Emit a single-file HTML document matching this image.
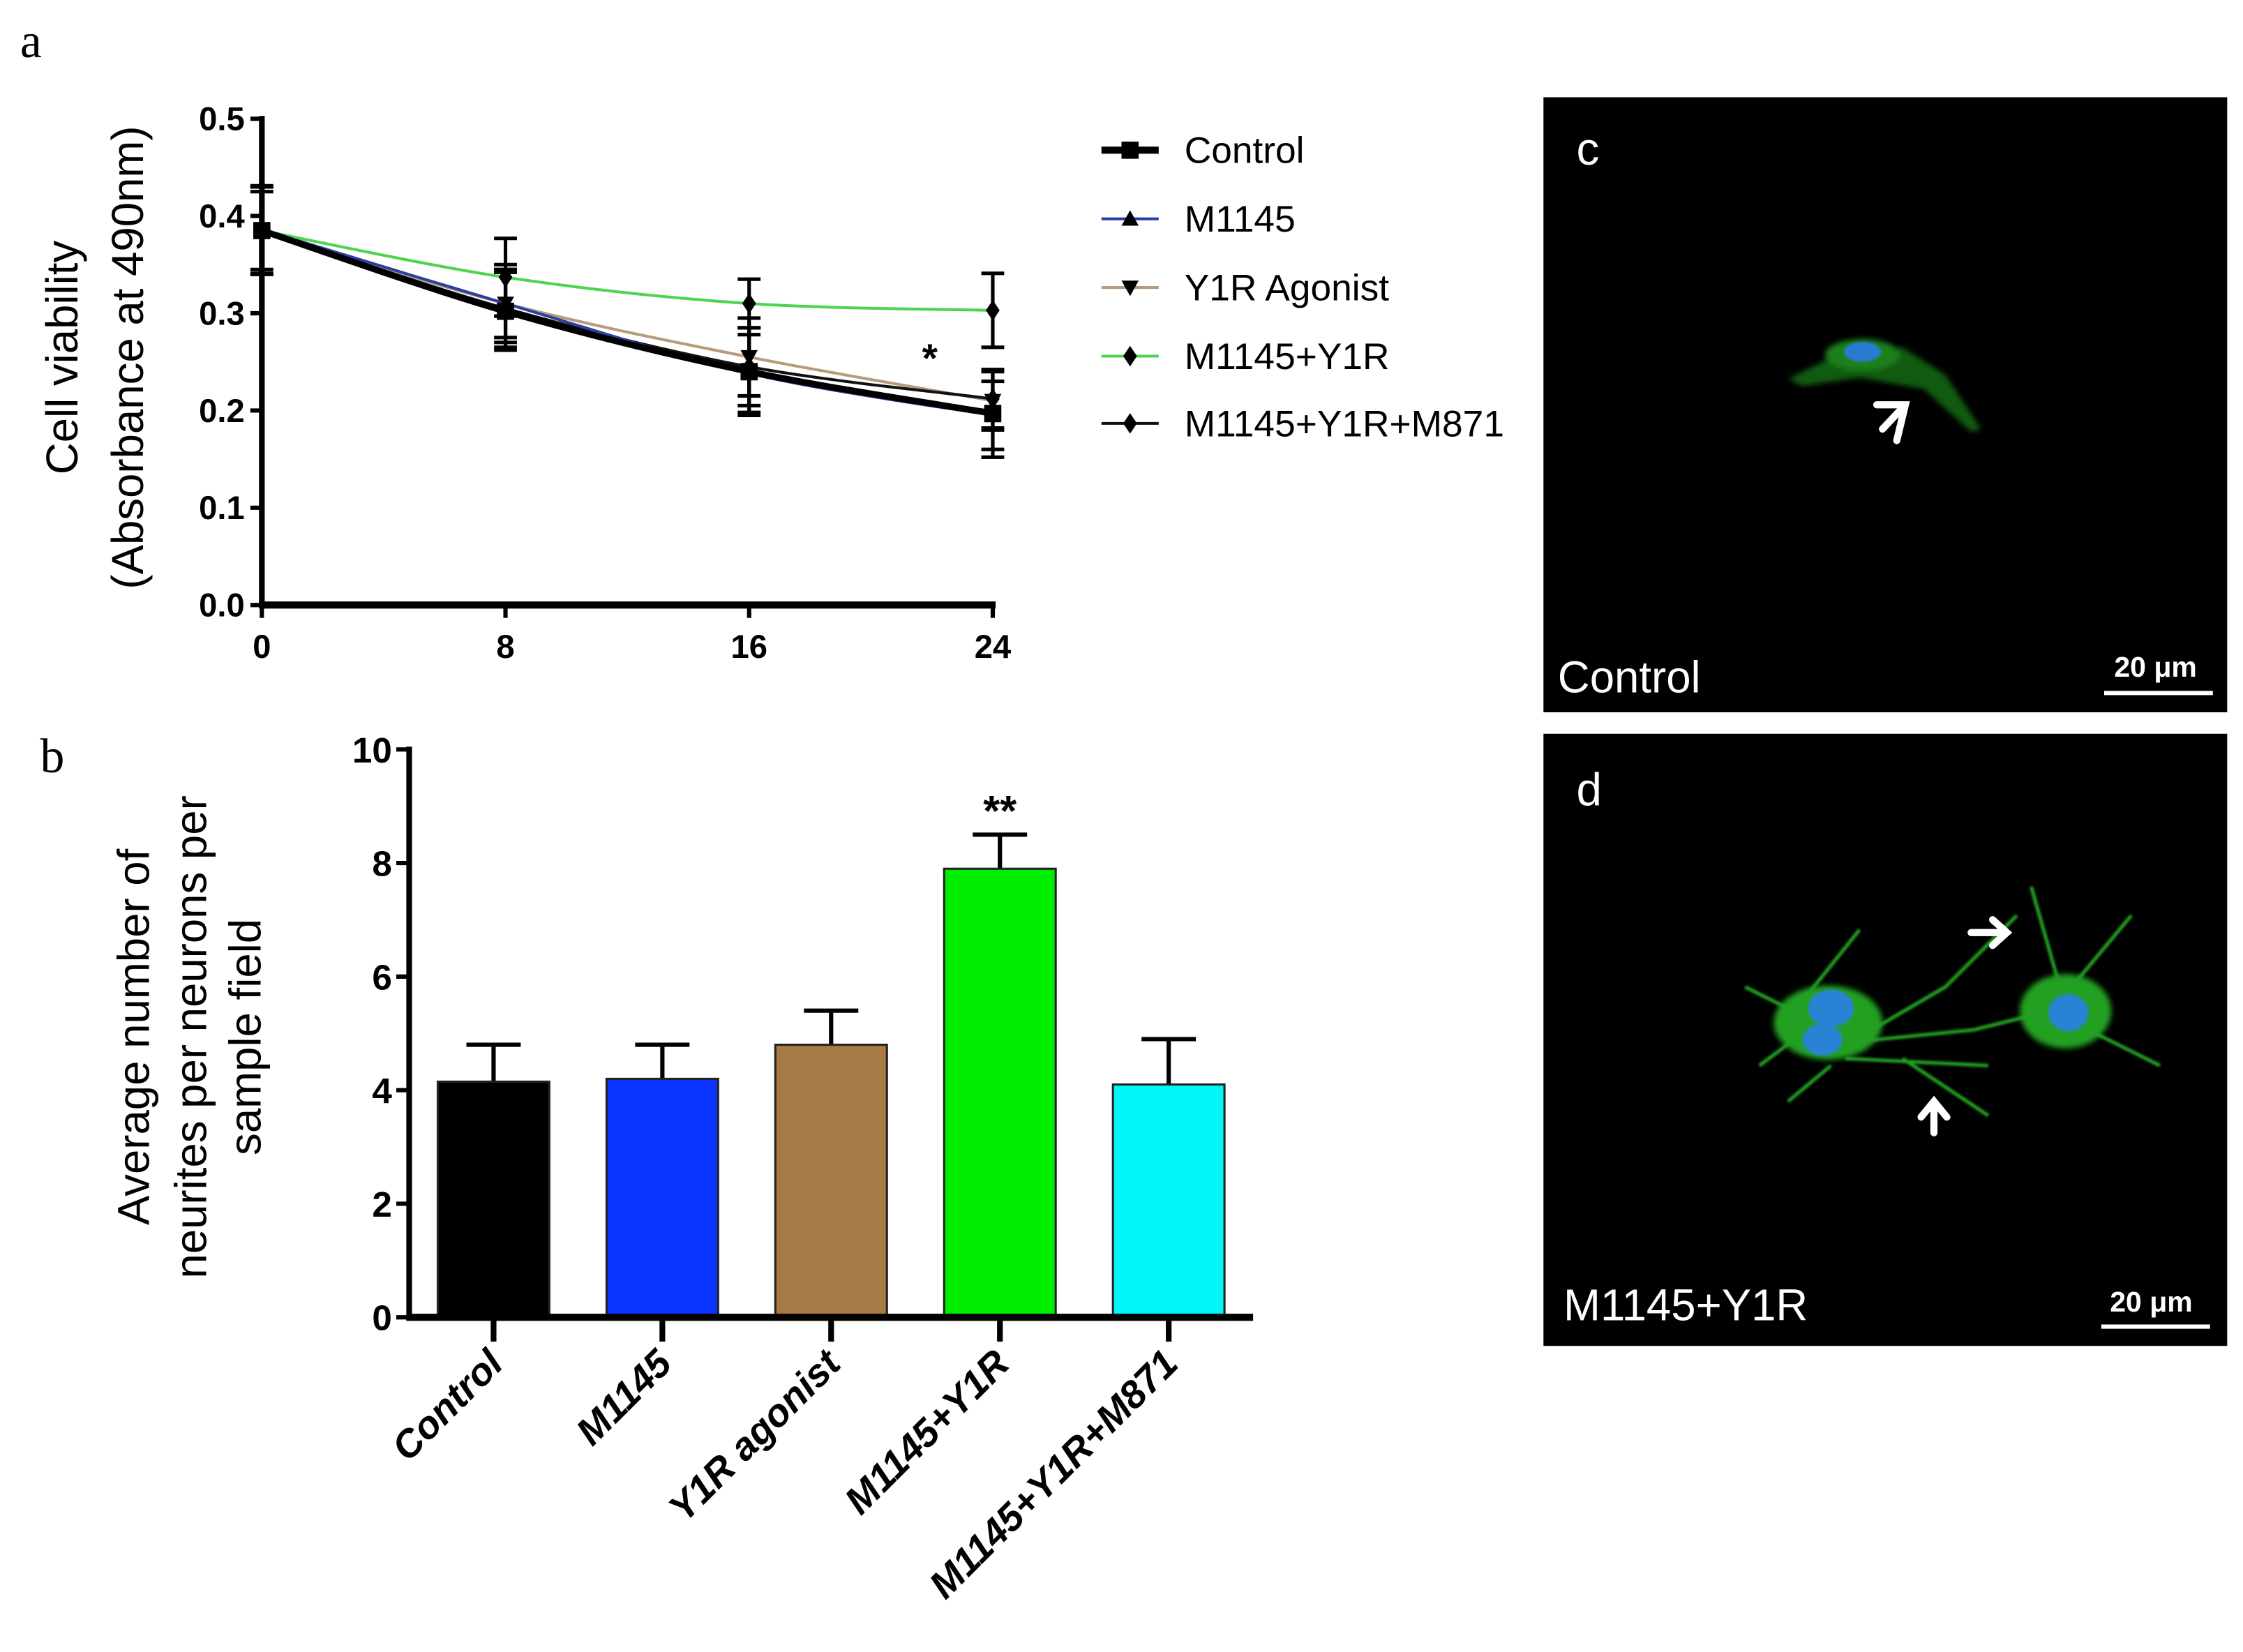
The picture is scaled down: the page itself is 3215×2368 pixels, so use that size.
<!DOCTYPE html>
<html><head><meta charset="utf-8"><style>
html,body{margin:0;padding:0;background:#fff;}
svg{display:block;}
text{font-family:"Liberation Sans",sans-serif;}
</style></head><body>
<svg id="fig" width="3215" height="2368" viewBox="0 0 1568 1155" xmlns="http://www.w3.org/2000/svg">
<defs>
<filter id="blur2"><feGaussianBlur stdDeviation="2"/></filter>
<filter id="blur1"><feGaussianBlur stdDeviation="0.8"/></filter>
</defs>
<text x="14" y="40" font-size="34" style="font-family:'Liberation Serif',serif">a</text>
<text x="28" y="540" font-size="34" style="font-family:'Liberation Serif',serif">b</text>
<g id="chartA"></g>
<g id="legendA"></g>
<g id="chartB"></g>

<g>
<rect x="1079" y="68" width="478" height="430" fill="#000"/>
<g filter="url(#blur2)" opacity="0.8">
<path d="M1250 265 L1290 245 L1330 243 L1360 262 L1385 300 L1378 302 L1345 272 L1300 264 L1260 270 Z" fill="#137213"/>
<ellipse cx="1302" cy="248" rx="26" ry="11" fill="#23a023"/>
</g>
<ellipse cx="1302" cy="246" rx="13" ry="7" fill="#2a7ad0" filter="url(#blur1)"/>
<path d="M1312 283 L1332 283 L1326 308 M1332 283 L1316 300" stroke="#fff" stroke-width="5" fill="none" stroke-linecap="round"/>
<text x="1102" y="115" fill="#fff" font-size="32">c</text>
<text x="1089" y="484" fill="#fff" font-size="31">Control</text>
<text x="1478" y="473" fill="#fff" font-size="20" font-weight="bold">20 μm</text>
<rect x="1471" y="483" width="76" height="3" fill="#fff"/>
</g>

<g>
<rect x="1079" y="513" width="478" height="428" fill="#000"/>
<g stroke="#24a024" stroke-width="2.5" fill="none" filter="url(#blur1)">
<path d="M1270 715 L1220 690 M1270 715 L1230 745 M1280 730 L1380 720 L1440 705 M1290 740 L1390 745 M1260 700 L1300 650 M1300 725 L1360 690 L1410 640 M1440 700 L1490 640 M1450 715 L1510 745 M1440 690 L1420 620 M1280 745 L1250 770 M1330 740 L1390 780"/>
</g>
<g filter="url(#blur2)">
<ellipse cx="1278" cy="715" rx="38" ry="26" fill="#22a022"/>
<ellipse cx="1444" cy="707" rx="32" ry="26" fill="#22a022"/>
</g>
<g filter="url(#blur1)">
<ellipse cx="1280" cy="705" rx="16" ry="13" fill="#2a82d4"/>
<ellipse cx="1274" cy="727" rx="14" ry="11" fill="#2a82d4"/>
<ellipse cx="1446" cy="708" rx="14" ry="13" fill="#2a82d4"/>
</g>
<path d="M1378 652 L1402 652 M1393 643 L1403 652 L1393 661" stroke="#fff" stroke-width="5" fill="none" stroke-linecap="round"/>
<path d="M1352 792 L1352 770 M1343 781 L1352 770 L1361 781" stroke="#fff" stroke-width="5" fill="none" stroke-linecap="round"/>
<text x="1102" y="563" fill="#fff" font-size="32">d</text>
<text x="1093" y="923" fill="#fff" font-size="31">M1145+Y1R</text>
<text x="1475" y="917" fill="#fff" font-size="20" font-weight="bold">20 μm</text>
<rect x="1469" y="926" width="76" height="3" fill="#fff"/>
</g>
</svg>
<script>
// ---- Chart A data ----
const timePoints = [0, 8, 16, 24];
const yTicksA = [0.0, 0.1, 0.2, 0.3, 0.4, 0.5];
const seriesNames = ["Control", "M1145", "Y1R Agonist", "M1145+Y1R", "M1145+Y1R+M871"];
const controlVals = [0.385, 0.302, 0.240, 0.197];
const m1145Vals = [0.386, 0.310, 0.238, 0.195];
const y1rVals = [0.385, 0.310, 0.255, 0.210];
const comboVals = [0.385, 0.337, 0.310, 0.303];
const m871Vals = [0.385, 0.305, 0.245, 0.212];
const controlErr = [0.045, 0.040, 0.045, 0.045];
const m1145Err = [0.045, 0.035, 0.040, 0.035];
const y1rErr = [0.040, 0.040, 0.040, 0.030];
const comboErr = [0.045, 0.040, 0.025, 0.038];
const m871Err = [0.045, 0.040, 0.040, 0.030];

// ---- Chart B data ----
const barCats = ["Control", "M1145", "Y1R agonist", "M1145+Y1R", "M1145+Y1R+M871"];
const barVals = [4.15, 4.2, 4.8, 7.9, 4.1];
const barErr = [0.65, 0.6, 0.6, 0.6, 0.8];
const yTicksB = [0, 2, 4, 6, 8, 10];

const NS = "http://www.w3.org/2000/svg";
function mk(tag, attrs, parent) {
  const e = document.createElementNS(NS, tag);
  for (const k in attrs) e.setAttribute(k, attrs[k]);
  parent.appendChild(e);
  return e;
}

// ---- Chart A ----
const gA = document.getElementById("chartA");
const ax0 = 183, ax1 = 694, ay0 = 423, ay1 = 83;
const xA = t => ax0 + (t - 0) / 24 * (ax1 - ax0);
const yA = v => ay0 - v / 0.5 * (ay0 - ay1);
let ax = mk("line", {x1: ax0, y1: ay1 - 2, x2: ax0, y2: ay0, stroke: "#000", "stroke-width": 4}, gA);


ax = mk("line", {x1: ax0 - 2, y1: ay0, x2: ax1 + 2, y2: ay0, stroke: "#000", "stroke-width": 5}, gA);


yTicksA.forEach(v => {
  mk("line", {x1: ax0 - 8, y1: yA(v), x2: ax0, y2: yA(v), stroke: "#000", "stroke-width": 3}, gA);
  const t = mk("text", {x: ax0 - 12, y: yA(v) + 8, "text-anchor": "end", "font-size": 23, "font-weight": "bold"}, gA);
  t.textContent = v.toFixed(1);
  
  
});
timePoints.forEach(v => {
  mk("line", {x1: xA(v), y1: ay0, x2: xA(v), y2: ay0 + 9, stroke: "#000", "stroke-width": 3}, gA);
  const t = mk("text", {x: xA(v), y: ay0 + 37, "text-anchor": "middle", "font-size": 23, "font-weight": "bold"}, gA);
  t.textContent = v;
  
  
});
let yt = mk("text", {transform: "translate(54,250) rotate(-90)", "text-anchor": "middle", "font-size": 31}, gA);
yt.textContent = "Cell viability";


yt = mk("text", {transform: "translate(100,250) rotate(-90)", "text-anchor": "middle", "font-size": 31}, gA);
yt.textContent = "(Absorbance at 490nm)";



const allVals = [controlVals, m1145Vals, y1rVals, comboVals, m871Vals];
const allErr = [controlErr, m1145Err, y1rErr, comboErr, m871Err];
const colors = ["#000", "#2b3fa0", "#b99a7c", "#4fd44f", "#111"];
const widths = [4.5, 2, 2, 2, 2];
const markers = ["square", "up", "down", "diamond", "diamond"];
function marker(type, cx, cy, size, parent) {
  let m;
  if (type === "square") m = mk("rect", {x: cx - size, y: cy - size, width: 2 * size, height: 2 * size, fill: "#000"}, parent);
  else if (type === "up") m = mk("polygon", {points: `${cx},${cy - size} ${cx - size},${cy + size * 0.8} ${cx + size},${cy + size * 0.8}`, fill: "#000"}, parent);
  else if (type === "down") m = mk("polygon", {points: `${cx},${cy + size} ${cx - size},${cy - size * 0.8} ${cx + size},${cy - size * 0.8}`, fill: "#000"}, parent);
  else m = mk("polygon", {points: `${cx},${cy - size * 1.2} ${cx + size * 0.8},${cy} ${cx},${cy + size * 1.2} ${cx - size * 0.8},${cy}`, fill: "#000"}, parent);
  return m;
}
const drawOrder = [2, 4, 1, 3, 0];
drawOrder.forEach(i => {
  const vals = allVals[i], errs = allErr[i];
  const g = mk("g", {}, gA);
  
  
  const pts = vals.map((v, k) => [xA(timePoints[k]), yA(v)]);
  let d = `M${pts[0][0]},${pts[0][1]}`;
  for (let k = 0; k < pts.length - 1; k++) {
    const p0 = pts[Math.max(0, k - 1)], p1 = pts[k], p2 = pts[k + 1], p3 = pts[Math.min(pts.length - 1, k + 2)];
    const c1 = [p1[0] + (p2[0] - p0[0]) / 6, p1[1] + (p2[1] - p0[1]) / 6];
    const c2 = [p2[0] - (p3[0] - p1[0]) / 6, p2[1] - (p3[1] - p1[1]) / 6];
    d += ` C${c1[0]},${c1[1]} ${c2[0]},${c2[1]} ${p2[0]},${p2[1]}`;
  }
  const line = mk("path", {d: d, stroke: colors[i], "stroke-width": widths[i], fill: "none"}, g);
  
  
  vals.forEach((v, k) => {
    const x = xA(timePoints[k]);
    const eb = mk("path", {d: `M${x},${yA(v + errs[k])} V${yA(v - errs[k])} M${x - 8},${yA(v + errs[k])} h16 M${x - 8},${yA(v - errs[k])} h16`, stroke: "#000", "stroke-width": 2.5, fill: "none"}, g);
    
    
    const m = marker(markers[i], x, yA(v), 6, g);
    
    
  });
});
let st = mk("text", {x: 650, y: 260, "text-anchor": "middle", "font-size": 28, "font-weight": "bold"}, gA);
st.textContent = "*";



const gL = document.getElementById("legendA");
const legY = [105, 153, 201, 249, 296];
seriesNames.forEach((n, i) => {
  const g = mk("g", {}, gL);
  
  
  mk("line", {x1: 770, y1: legY[i], x2: 810, y2: legY[i], stroke: colors[i], "stroke-width": i === 0 ? 5 : 2}, g);
  marker(markers[i], 790, legY[i], 6, g);
  const t = mk("text", {x: 828, y: legY[i] + 9, "font-size": 26}, g);
  t.textContent = n;
});

// ---- Chart B ----
const gB = document.getElementById("chartB");
const bx0 = 286, bx1 = 876, by0 = 921, by1 = 524;
const yB = v => by0 - v / 10 * (by0 - by1);
const slotW = (bx1 - bx0) / barCats.length;
const xB = i => bx0 + slotW * (i + 0.5);
const barColors = ["#000000", "#0a33ff", "#a87a45", "#00ee00", "#00f7f7"];
ax = mk("line", {x1: bx0, y1: by1 - 2, x2: bx0, y2: by0, stroke: "#000", "stroke-width": 4}, gB);


yTicksB.forEach(v => {
  mk("line", {x1: bx0 - 9, y1: yB(v), x2: bx0, y2: yB(v), stroke: "#000", "stroke-width": 3}, gB);
  const t = mk("text", {x: bx0 - 12, y: yB(v) + 9, "text-anchor": "end", "font-size": 25, "font-weight": "bold"}, gB);
  t.textContent = v;
  
  
});
const bw = 78;
barCats.forEach((c, i) => {
  const cx = xB(i);
  const eb = mk("path", {d: `M${cx},${yB(barVals[i])} V${yB(barVals[i] + barErr[i])} M${cx - 19},${yB(barVals[i] + barErr[i])} h38`, stroke: "#000", "stroke-width": 3, fill: "none"}, gB);
  
  
  const r = mk("rect", {x: cx - bw / 2, y: yB(barVals[i]), width: bw, height: by0 - yB(barVals[i]), fill: barColors[i], stroke: "#222", "stroke-width": 1.5}, gB);
  
  
  mk("line", {x1: cx, y1: by0, x2: cx, y2: by0 + 17, stroke: "#000", "stroke-width": 4}, gB);
  const t = mk("text", {transform: `translate(${cx + 8},${by0 + 34}) rotate(-45)`, "text-anchor": "end", "font-size": 27, "font-weight": "bold", "font-style": "italic"}, gB);
  t.textContent = c;
  
  
});
ax = mk("line", {x1: bx0 - 2, y1: by0, x2: bx1, y2: by0, stroke: "#000", "stroke-width": 5}, gB);


st = mk("text", {x: xB(3), y: 577, "text-anchor": "middle", "font-size": 30, "font-weight": "bold"}, gB);
st.textContent = "**";


const ttl = ["Average number of", "neurites per neurons per", "sample field"];
const tx = [104, 144, 182];
ttl.forEach((s, k) => {
  const t = mk("text", {transform: `translate(${tx[k]},725) rotate(-90)`, "text-anchor": "middle", "font-size": 31}, gB);
  t.textContent = s;
  
  
});
</script>
</body></html>
